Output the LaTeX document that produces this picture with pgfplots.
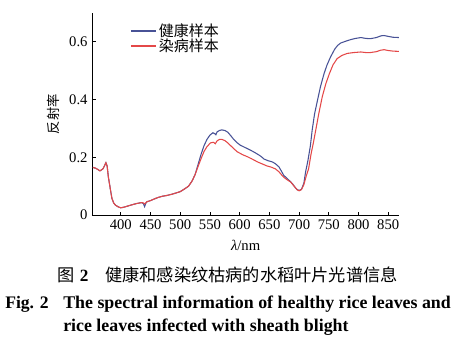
\documentclass[border=0pt]{standalone}
\usepackage{fontspec}
\setmainfont{Liberation Serif}
\newfontfamily\cjk{Noto Sans CJK SC}
\usepackage{pgfplots}
\pgfplotsset{compat=1.18}
\definecolor{healthy}{RGB}{72,82,150}
\definecolor{sick}{RGB}{228,72,72}
\begin{document}
\begin{tikzpicture}
\useasboundingbox (0,0) rectangle (350.25pt,-263.25pt);
\begin{axis}[
  at={(69.2pt,-161.25pt)}, anchor=south west,
  scale only axis, width=230pt, height=151.5pt,
  xmin=352, xmax=868, ymin=0, ymax=0.70,
  axis lines=left, axis line style={-, line width=0.7pt},
  tick align=inside, major tick length=2.5pt,
  tick style={line width=0.6pt, black},
  xtick={400,450,...,850}, ytick={0,0.2,0.4,0.6},
  /pgf/number format/assume math mode=true,
  ticklabel style={font=\fontsize{11}{11}\selectfont},
  xlabel={{\itshape λ}/nm},
  xlabel style={at={(axis description cs:0.5,0)}, anchor=center, yshift=-22.5pt, font=\fontsize{11}{11}\selectfont},
  ylabel={\cjk 反射率},
  ylabel style={at={(axis description cs:0,0.5)}, anchor=center, yshift=29pt, font=\fontsize{10}{10}\selectfont},
  legend style={at={(axis description cs:0.122,0.96)}, anchor=north west, draw=none, fill=none,
    font=\cjk\fontsize{11.25}{11.25}\selectfont, row sep=-2.5pt, inner sep=0pt,
    nodes={inner sep=1.5pt}},
  legend cell align=left,
  legend image code/.code={\draw[#1, line width=1.4pt] (0pt,0pt) -- (18.75pt,0pt);},
]
\addplot[healthy, line width=0.8pt] coordinates {
(353,0.165) (358,0.162) (365,0.153) (370,0.160) (375,0.181) (377,0.170) (379,0.133)
(382,0.095) (385,0.058) (388,0.042) (391,0.034) (396,0.028) (400,0.025) (405,0.027)
(410,0.030) (418,0.035) (427,0.040) (435,0.043) (438,0.040) (440,0.029) (442,0.040)
(444,0.046) (450,0.050) (458,0.057) (463,0.061) (470,0.065) (478,0.068) (486,0.072)
(494,0.077) (500,0.081) (507,0.090) (514,0.100) (520,0.118) (525,0.140) (530,0.175)
(535,0.210) (540,0.240) (545,0.262) (550,0.277) (555,0.285) (558,0.282) (560,0.278)
(562,0.288) (566,0.293) (570,0.295) (575,0.293) (580,0.287) (585,0.275) (590,0.262)
(596,0.250) (601,0.242) (610,0.233) (618,0.225) (625,0.217) (630,0.211) (636,0.203)
(641,0.194) (648,0.188) (655,0.184) (660,0.178) (666,0.167) (670,0.153) (674,0.138)
(680,0.126) (686,0.115) (690,0.105) (694,0.094) (697,0.088) (700,0.085) (704,0.089)
(708,0.110) (711,0.150) (715,0.190) (719,0.240) (722,0.294) (726,0.350) (731,0.398)
(736,0.445) (742,0.490) (747,0.520) (753,0.548) (760,0.575) (765,0.588) (770,0.596)
(778,0.602) (787,0.608) (795,0.612) (804,0.615) (812,0.612) (820,0.611) (830,0.615)
(838,0.621) (843,0.622) (850,0.619) (858,0.616) (868,0.615)
};
\addlegendentry{健康样本}
\addplot[sick, line width=0.8pt] coordinates {
(353,0.165) (358,0.162) (365,0.153) (370,0.160) (375,0.181) (377,0.170) (379,0.133)
(382,0.095) (385,0.058) (388,0.042) (391,0.034) (396,0.028) (400,0.025) (405,0.027)
(410,0.030) (418,0.035) (427,0.040) (435,0.043) (438,0.042) (440,0.038) (442,0.042)
(444,0.046) (450,0.050) (458,0.057) (463,0.061) (470,0.065) (478,0.068) (486,0.072)
(494,0.077) (500,0.081) (507,0.090) (514,0.100) (520,0.118) (525,0.140) (530,0.168)
(535,0.195) (540,0.220) (545,0.237) (551,0.250) (556,0.252) (559,0.247) (562,0.257)
(566,0.262) (570,0.262) (575,0.258) (580,0.250) (585,0.240) (590,0.230) (596,0.219)
(605,0.209) (613,0.202) (620,0.195) (630,0.184) (638,0.177) (646,0.170) (653,0.166)
(660,0.160) (666,0.150) (671,0.138) (676,0.128) (680,0.122) (686,0.114) (690,0.104)
(694,0.094) (697,0.087) (700,0.084) (704,0.088) (708,0.105) (712,0.135) (716,0.160)
(720,0.210) (724,0.250) (728,0.294) (733,0.350) (739,0.410) (745,0.455) (751,0.490)
(757,0.520) (764,0.542) (772,0.553) (781,0.560) (792,0.563) (804,0.565) (812,0.563)
(820,0.563) (830,0.566) (837,0.571) (843,0.573) (850,0.570) (858,0.568) (868,0.567)
};
\addlegendentry{染病样本}
\end{axis}
% caption
\node[anchor=base west, inner sep=0pt, font=\fontsize{12.9}{13}\selectfont] at (42.75pt,-211.1pt) {{\cjk 图}\hspace{4pt}\textbf{2}};
\node[anchor=base west, inner sep=0pt, font=\fontsize{12.9}{13}\selectfont] at (78.75pt,-211.1pt) {\cjk 健康和感染纹枯病的水稻叶片光谱信息};
\node[anchor=base west, inner sep=0pt, font=\bfseries\fontsize{13.2}{14}\selectfont] at (3.75pt,-231.2pt) {Fig. 2};
\node[anchor=base west, inner sep=0pt, font=\bfseries\fontsize{13.4}{14}\selectfont] at (47.25pt,-231.2pt) {The spectral information of healthy rice leaves and};
\node[anchor=base west, inner sep=0pt, font=\bfseries\fontsize{13.4}{14}\selectfont] at (47.25pt,-248.25pt) {rice leaves infected with sheath blight};
\end{tikzpicture}
\end{document}
